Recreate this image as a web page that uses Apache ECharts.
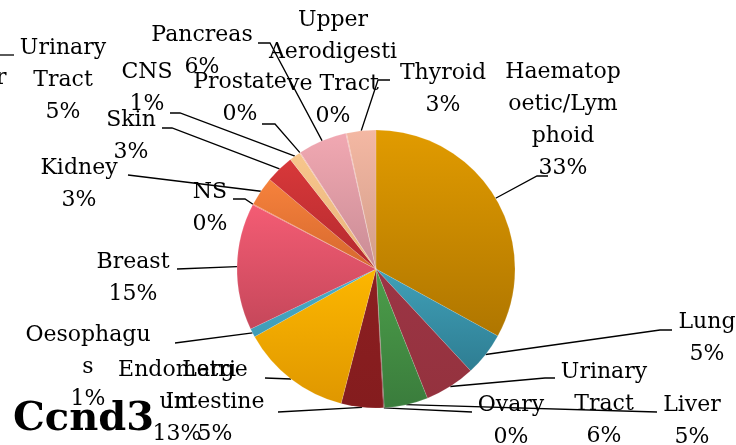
<!DOCTYPE html>
<html><head><meta charset="utf-8">
<script src="https://cdn.jsdelivr.net/npm/echarts@6/dist/echarts.min.js"></script>
<style>html,body{margin:0;padding:0;background:#fff}#c{width:736px;height:445px}</style>
</head><body><div id="c"></div>
<script>
// ---- data ----
const categories = ['Haematopoietic/Lymphoid','Lung','Urinary Tract','Liver','Ovary','Large Intestine','Endometrium','Oesophagus','Breast','NS','Kidney','Skin','CNS','Prostate','Pancreas','Upper Aerodigestive Tract','Thyroid'];
const values = [33.1,5.1,5.9,5.1,0.1,4.9,12.9,1.0,14.8,0.1,3.4,3.3,1.3,0.1,5.7,0.1,3.4];
// label text as wrapped in the reference
const labelTexts = ['Haematop\noetic/Lym\nphoid','Lung','Urinary\nTract','Liver','Ovary','Large\nIntestine','Endometri\num','Oesophagu\ns','Breast','NS','Kidney','Skin','CNS','Prostate','Pancreas','Upper\nAerodigesti\nve Tract','Thyroid'];
const chartTitle = 'Ccnd3';
const extraLabel = 'Urinary\nTract\n5%';

// ---- styles ----
const topColors = ['#E19B00','#40A0B8','#9C3545','#4C9E4A','#6F5030','#8C1F21','#FDB700','#4AB0CC','#F45C74','#F26E5A','#F6823C','#D8383A','#F7C68C','#F3B59E','#F1A8B2','#F2AFA9','#F4B8A3'];
const bottomColors = ['#AF7600','#2E7D92','#94323E','#3A7C3C','#602A28','#841C1E','#DF9700','#3F9CB6','#C5475A','#CE5A45','#D6682E','#B42A2E','#E8B47C','#DAA088','#C98C95','#CE968F','#D29D8A'];
// label layout: [centerX, firstLineCenterY, lineEndX, lineEndY, elbowX]
const labelPos = [
  [563, 72, 548, 176, 537],
  [707, 322, 672, 330, 660],
  [604, 372, 555, 378, 545],
  [692, 405, 657, 412, 657],
  [511, 405, 472, 412, 472],
  [215, 370, 278, 412, 278],
  [177, 370, 265, 378, 265],
  [88, 335, 175, 343, 175],
  [133, 262, 177, 269, 177],
  [210, 192, 233, 199, 245],
  [79, 168, 128, 175, 128],
  [131, 120, 162, 128, 172],
  [147, 72, 170, 113, 180],
  [240, 82, 262, 124, 275],
  [202, 35, 258, 43, 270],
  [333, 20, null, null, null],
  [443, 73, 390, 80, 378]
];
const LH = 32;
const FONT = 'DejaVu Serif';

const chart = echarts.init(document.getElementById('c'));
chart.setOption({
  backgroundColor: '#fff',
  animation: false,
  title: {
    text: chartTitle, left: 8, top: 395,
    textStyle: {fontFamily: FONT, fontWeight: 'bold', fontSize: 40, color: '#000'}
  },
  graphic: [
    {type: 'text', x: 63, y: 32, style: {text: extraLabel, font: '22px "' + FONT + '"', fill: '#000', lineHeight: LH, align: 'center', verticalAlign: 'top'}},
    {type: 'text', x: -4, y: 67, style: {text: 'r', font: '22px "' + FONT + '"', fill: '#000', verticalAlign: 'top'}},
    {type: 'line', shape: {x1: 0, y1: 55, x2: 14, y2: 55}, style: {stroke: '#000', lineWidth: 1.3}}
  ],
  series: [{
    type: 'pie',
    center: [376, 269],
    radius: 139,
    startAngle: 90,
    clockwise: true,
    avoidLabelOverlap: false,
    data: categories.map((n, i) => ({
      name: n,
      value: values[i],
      itemStyle: {color: new echarts.graphic.LinearGradient(0, 0, 0, 1, [
        {offset: 0, color: topColors[i]}, {offset: 1, color: bottomColors[i]}])},
      labelLine: {show: labelPos[i][2] != null}
    })),
    itemStyle: {borderColor: 'rgba(255,255,255,0.25)', borderWidth: 0.5},
    label: {
      show: true,
      position: 'outside',
      fontFamily: FONT,
      fontSize: 22,
      lineHeight: LH,
      color: '#000',
      align: 'center',
      formatter: p => labelTexts[p.dataIndex] + '\n' + Math.round(p.percent) + '%'
    },
    labelLine: {show: true, length: 10, length2: 10, lineStyle: {color: '#000', width: 1.3}},
    labelLayout: function (params) {
      const L = labelPos[params.dataIndex];
      const res = {x: L[0], y: L[1] - LH / 2, align: 'center', verticalAlign: 'top'};
      if (L[2] != null && params.labelLinePoints) {
        const p0 = params.labelLinePoints[0];
        res.labelLinePoints = [p0, [L[4], L[3]], [L[2], L[3]]];
      }
      return res;
    }
  }]
});
</script></body></html>
